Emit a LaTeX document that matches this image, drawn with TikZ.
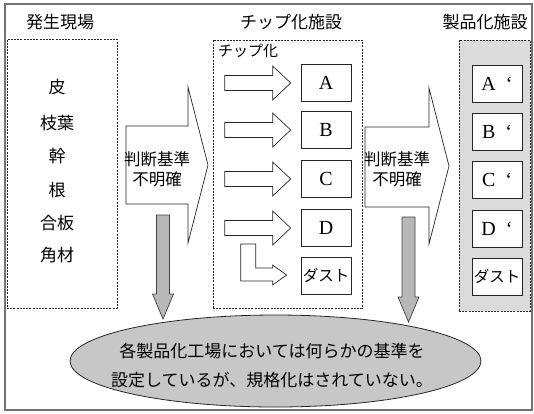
\documentclass[tikz,border=0pt]{standalone}
\usepackage{fontspec}
\setmainfont{Liberation Serif}
\newfontfamily\jp{Noto Sans CJK JP}
\usetikzlibrary{shapes.geometric,calc}
\definecolor{framegray}{gray}{0.45}
\definecolor{boxgray}{gray}{0.86}
\definecolor{ellgray}{gray}{0.78}
\definecolor{arrgray}{gray}{0.72}
\tikzset{
  dashbox/.style={draw=black!85, dash pattern=on 2pt off 1.2pt, line width=0.8pt, inner sep=0pt},
  jptext/.style={font=\jp\fontsize{17}{20}\selectfont, inner sep=0pt},
  smalljp/.style={font=\jp\fontsize{15}{18}\selectfont, inner sep=0pt},
  cbox/.style={draw=black!85, fill=white, line width=0.7pt, minimum width=50pt, minimum height=37pt, inner sep=0pt, font=\fontsize{20}{22}\selectfont},
  dustbox/.style={cbox, font=\jp\fontsize{15.5}{18}\selectfont},
  hollow/.style={draw=black!85, fill=white, line width=0.7pt, line join=miter},
  grayarrow/.style={draw=black!75, fill=arrgray, line width=0.7pt, line join=miter},
}
\begin{document}
\begin{tikzpicture}[x=1pt,y=-1pt]
\useasboundingbox (0,0) rectangle (534,413);
% outer frame
\draw[framegray, line width=1.2pt] (5,4) rectangle (532,410);

% titles
\node[jptext] (t1) at (60,22) {発生現場};
\node[jptext] (t2) at (291,22) {チップ化施設};
\node[jptext] (t3) at (485,22) {製品化施設};

% dashed boxes
\node[dashbox, minimum width=110pt, minimum height=269pt] (src) at (62,173.5) {};
\node[dashbox, minimum width=149pt, minimum height=268pt] (mid) at (287.5,174) {};
\node[dashbox, fill=boxgray, minimum width=71pt, minimum height=271pt] (prod) at (494.5,175.5) {};

% source items
\node[jptext] (s1) at (57,87) {皮};
\node[jptext] (s2) at (57,123) {枝葉};
\node[jptext] (s3) at (57,156) {幹};
\node[jptext] (s4) at (57,190) {根};
\node[jptext] (s5) at (57,223) {合板};
\node[jptext] (s6) at (57,255) {角材};

% chip label
\node[smalljp, anchor=west] (chip) at (218,51) {チップ化};

% chip boxes
\node[cbox] (A) at (326,83) {A};
\node[cbox] (B) at (326,130) {B};
\node[cbox] (C) at (326,179) {C};
\node[cbox] (D) at (326,228) {D};
\node[dustbox] (Du) at (326,275.5) {ダスト};

% product boxes
\node[cbox] (A2) at (497,83.5) {A\hspace{10pt}‘};
\node[cbox] (B2) at (497,131.5) {B\hspace{10pt}‘};
\node[cbox] (C2) at (497,180) {C\hspace{10pt}‘};
\node[cbox] (D2) at (497,228.5) {D\hspace{10pt}‘};
\node[dustbox] (Du2) at (497,276.5) {ダスト};

% small hollow arrows into chip boxes
\foreach \b in {A,B,C,D}{
  \draw[hollow] ([xshift=-10pt]\b.west) -- ++(-18,-17) -- ++(0,9.5) -- ++(-48,0) -- ++(0,15) -- ++(48,0) -- ++(0,9.5) -- cycle;
}
% L-shaped arrow into dust box
\coordinate (lt) at ([xshift=-14pt,yshift=0.5pt]Du.west);
\draw[hollow] (lt) -- ++(-14,-10) -- ++(0,3) -- ++(-17,0) -- ++(0,-24) -- ++(-15,0) -- ++(0,37) -- ++(32,0) -- ++(0,4) -- cycle;

% big hollow arrows
\coordinate (bt1) at (208,165);
\draw[hollow] (bt1) -- ++(-20,-78) -- ++(0,39) -- ++(-62,0) -- ++(0,78) -- ++(62,0) -- ++(0,39) -- cycle;
\node[jptext, align=center, font=\jp\fontsize{16.5}{20}\selectfont] (j1) at (157,169) {判断基準\\不明確};

\coordinate (bt2) at (449,166);
\draw[hollow] (bt2) -- ++(-20,-78) -- ++(0,39) -- ++(-64,0) -- ++(0,80) -- ++(64,0) -- ++(0,37) -- cycle;
\node[jptext, align=center, font=\jp\fontsize{16.5}{20}\selectfont] (j2) at (397,169) {判断基準\\不明確};

% ellipse
\node[ellipse, draw=black!85, fill=ellgray, line width=0.8pt, minimum width=411pt, minimum height=92pt, inner sep=0pt] (ell) at (275.5,361) {};
\node[jptext, align=center, font=\jp\fontsize{17}{29}\selectfont] (note) at (272,366) {各製品化工場においては何らかの基準を\\設定しているが、規格化はされていない。};

% gray down arrows
\coordinate (dt1) at (163,319);
\draw[grayarrow] (dt1) -- ++(-10.5,-25) -- ++(4,0) -- ++(0,-79) -- ++(13,0) -- ++(0,79) -- ++(4,0) -- cycle;
\coordinate (dt2) at (408.5,322);
\draw[grayarrow] (dt2) -- ++(-10.5,-25) -- ++(4,0) -- ++(0,-80) -- ++(13,0) -- ++(0,80) -- ++(4,0) -- cycle;
\end{tikzpicture}
\end{document}
